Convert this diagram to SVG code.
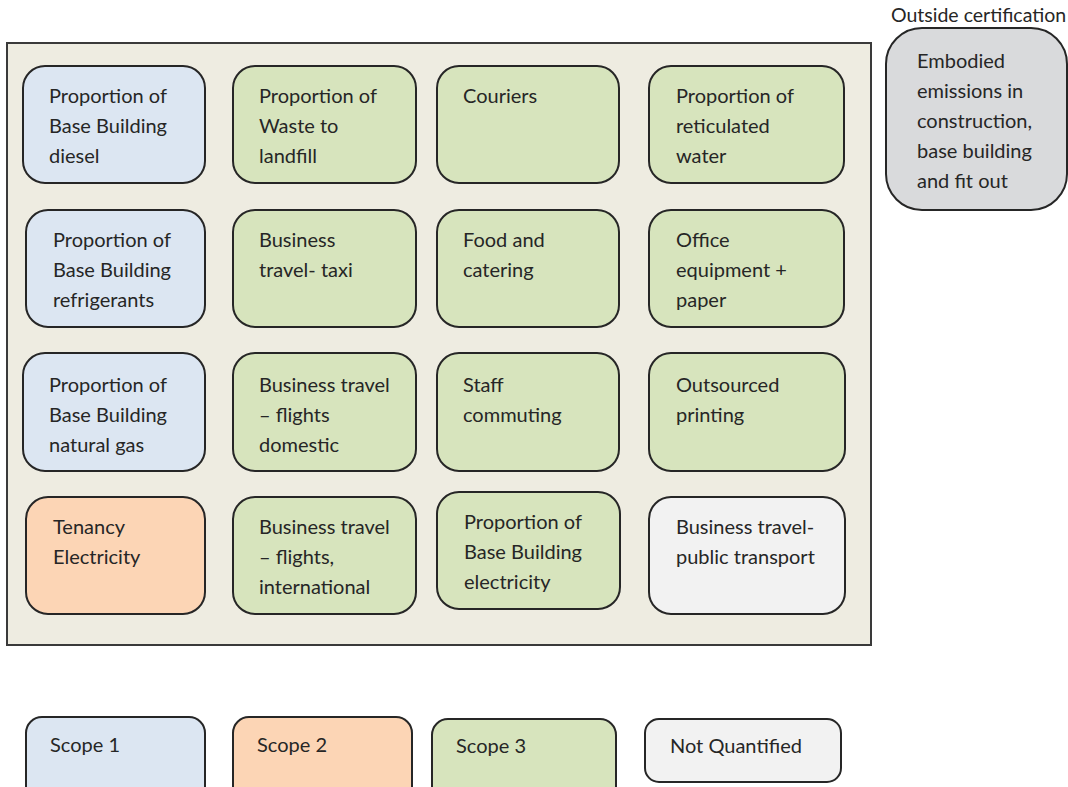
<svg xmlns="http://www.w3.org/2000/svg" width="1068" height="787" viewBox="0 0 1068 787">
<style>
  text { font-family: Lato, "Open Sans", "Liberation Sans", sans-serif; font-size: 20px; fill: #262626; }
  .box { stroke: #262626; stroke-width: 2; }
  .s1 { fill: #dce6f2; }
  .s2 { fill: #fcd5b5; }
  .s3 { fill: #d7e4bd; }
  .nq { fill: #f2f2f2; }
  .oc { fill: #d9dadc; }
</style>
<rect width="1068" height="787" fill="#ffffff"/>
<g id="container">
  <rect x="7" y="43" width="864" height="602" fill="#eeece1" stroke="#3a3a3a" stroke-width="2"/>
</g>
<g id="connectors"></g>

<g id="n-diesel">
  <rect class="box s1" x="23" y="66" width="182" height="117" rx="22"/>
  <text x="49" y="103">Proportion of</text>
  <text x="49" y="133">Base Building</text>
  <text x="49" y="163">diesel</text>
</g>
<g id="n-waste">
  <rect class="box s3" x="233" y="66" width="183" height="117" rx="22"/>
  <text x="259" y="103">Proportion of</text>
  <text x="259" y="133">Waste to</text>
  <text x="259" y="163">landfill</text>
</g>
<g id="n-couriers">
  <rect class="box s3" x="437" y="66" width="182" height="117" rx="22"/>
  <text x="463" y="103">Couriers</text>
</g>
<g id="n-water">
  <rect class="box s3" x="649" y="66" width="195" height="117" rx="22"/>
  <text x="676" y="103">Proportion of</text>
  <text x="676" y="133">reticulated</text>
  <text x="676" y="163">water</text>
</g>

<g id="n-refrigerants">
  <rect class="box s1" x="26" y="210" width="179" height="117" rx="22"/>
  <text x="53" y="247">Proportion of</text>
  <text x="53" y="277">Base Building</text>
  <text x="53" y="307">refrigerants</text>
</g>
<g id="n-taxi">
  <rect class="box s3" x="233" y="210" width="183" height="117" rx="22"/>
  <text x="259" y="247">Business</text>
  <text x="259" y="277">travel- taxi</text>
</g>
<g id="n-food">
  <rect class="box s3" x="437" y="210" width="182" height="117" rx="22"/>
  <text x="463" y="247">Food and</text>
  <text x="463" y="277">catering</text>
</g>
<g id="n-office">
  <rect class="box s3" x="649" y="210" width="195" height="117" rx="22"/>
  <text x="676" y="247">Office</text>
  <text x="676" y="277">equipment +</text>
  <text x="676" y="307">paper</text>
</g>

<g id="n-gas">
  <rect class="box s1" x="23" y="353" width="182" height="118" rx="22"/>
  <text x="49" y="392">Proportion of</text>
  <text x="49" y="422">Base Building</text>
  <text x="49" y="452">natural gas</text>
</g>
<g id="n-domestic">
  <rect class="box s3" x="233" y="353" width="183" height="118" rx="22"/>
  <text x="259" y="392">Business travel</text>
  <text x="259" y="422">– flights</text>
  <text x="259" y="452">domestic</text>
</g>
<g id="n-commuting">
  <rect class="box s3" x="437" y="353" width="182" height="118" rx="22"/>
  <text x="463" y="392">Staff</text>
  <text x="463" y="422">commuting</text>
</g>
<g id="n-printing">
  <rect class="box s3" x="649" y="353" width="196" height="118" rx="22"/>
  <text x="676" y="392">Outsourced</text>
  <text x="676" y="422">printing</text>
</g>

<g id="n-tenancy">
  <rect class="box s2" x="26" y="497" width="179" height="117" rx="22"/>
  <text x="53" y="534">Tenancy</text>
  <text x="53" y="564">Electricity</text>
</g>
<g id="n-international">
  <rect class="box s3" x="233" y="497" width="183" height="117" rx="22"/>
  <text x="259" y="534">Business travel</text>
  <text x="259" y="564">– flights,</text>
  <text x="259" y="594">international</text>
</g>
<g id="n-electricity">
  <rect class="box s3" x="437" y="492" width="183" height="117" rx="22"/>
  <text x="464" y="529">Proportion of</text>
  <text x="464" y="559">Base Building</text>
  <text x="464" y="589">electricity</text>
</g>
<g id="n-public">
  <rect class="box nq" x="649" y="497" width="196" height="117" rx="22"/>
  <text x="676" y="534">Business travel-</text>
  <text x="676" y="564">public transport</text>
</g>

<g id="n-embodied">
  <text x="891" y="22" style="font-size:19.5px">Outside certification</text>
  <rect class="box oc" x="886" y="28" width="181" height="182" rx="36"/>
  <text x="917" y="68">Embodied</text>
  <text x="917" y="98">emissions in</text>
  <text x="917" y="128">construction,</text>
  <text x="917" y="158">base building</text>
  <text x="917" y="188">and fit out</text>
</g>

<g id="legend-scope1">
  <rect class="box s1" x="26" y="717" width="179" height="90" rx="16"/>
  <text x="50" y="752">Scope 1</text>
</g>
<g id="legend-scope2">
  <rect class="box s2" x="233" y="717" width="179" height="90" rx="16"/>
  <text x="257" y="752">Scope 2</text>
</g>
<g id="legend-scope3">
  <rect class="box s3" x="432" y="719" width="184" height="90" rx="16"/>
  <text x="456" y="753">Scope 3</text>
</g>
<g id="legend-nq">
  <rect class="box nq" x="645" y="719" width="196" height="63" rx="14"/>
  <text x="670" y="753">Not Quantified</text>
</g>
</svg>
